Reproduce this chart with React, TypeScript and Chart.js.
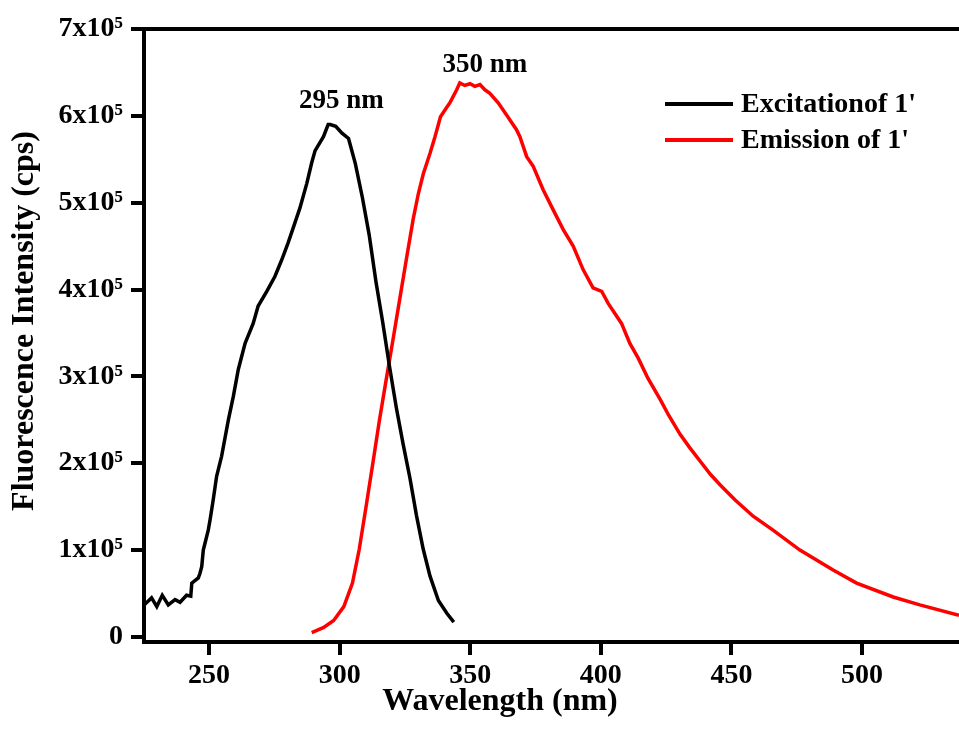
import React, { useEffect, useRef } from "react";
import { Chart, registerables } from "chart.js";

Chart.register(...registerables);

// ---- data ----
const EXCITATION_LABEL = "Excitationof 1'";
const EMISSION_LABEL = "Emission of 1'";

const EX_WAVELENGTH = [
  225.2, 228.0, 230.0, 232.1, 234.4, 237.0, 238.9, 241.4, 243.0, 243.4,
  245.9, 246.5, 247.2, 247.8, 249.7, 250.4, 251.6, 252.9, 254.8, 257.4,
  259.3, 261.2, 263.8, 266.9, 268.8, 272.1, 275.2, 277.8, 280.3, 282.9,
  284.8, 287.4, 289.3, 290.6, 293.8, 295.6, 296.4, 298.5, 300.9, 303.4,
  306.0, 308.7, 311.3, 313.9, 316.5, 319.1, 321.7, 324.3, 326.9, 329.4,
  332.0, 334.6, 337.8, 341.1, 343.7,
];
const EX_INTENSITY = [
  37000, 45000, 35000, 48000, 37000, 43000, 40000, 48000, 47000, 62000,
  68000, 73000, 81000, 100000, 123000, 135000, 158000, 185000, 208000, 250000,
  277000, 308000, 338000, 361000, 381000, 398000, 415000, 434000, 454000, 477000,
  494000, 522000, 546000, 560000, 576000, 590000, 590000, 588000, 580000, 574000,
  545000, 506000, 463000, 409000, 362000, 311000, 264000, 222000, 183000, 140000,
  101000, 70000, 42000, 27000, 17000,
];

const EM_WAVELENGTH = [
  289.3, 293.9, 297.7, 301.6, 304.9, 307.5, 310.0, 312.6, 315.2, 317.8,
  320.4, 323.0, 325.6, 328.2, 330.1, 332.0, 334.6, 336.5, 338.6, 341.0,
  342.2, 344.8, 346.0, 347.9, 349.9, 351.8, 353.7, 355.6, 357.5, 360.7,
  363.9, 367.7, 369.0, 371.6, 374.1, 377.9, 381.7, 385.6, 389.4, 393.2,
  397.0, 400.3, 402.8, 407.9, 411.1, 414.3, 418.0, 422.8, 426.0, 430.4,
  434.0, 438.1, 442.0, 445.7, 451.3, 458.3, 465.9, 476.2, 488.9, 497.9,
  511.9, 522.1, 537.1,
];
const EM_INTENSITY = [
  5000, 11000, 19000, 35000, 62000, 101000, 148000, 198000, 249000, 296000,
  342000, 389000, 436000, 482000, 510000, 533000, 557000, 576000, 599000, 610000,
  615000, 630000, 638000, 635000, 637000, 634000, 636000, 630000, 626000, 615000,
  601000, 584000, 576000, 553000, 542000, 515000, 492000, 469000, 450000, 423000,
  402000, 398000, 384000, 361000, 338000, 321000, 298000, 273000, 255000, 233000,
  218000, 202000, 187000, 175000, 158000, 139000, 123000, 100000, 77000, 62000,
  46000, 37000, 25000,
];

const X_TICKS = [250, 300, 350, 400, 450, 500];
const Y_TICKS = [0, 100000, 200000, 300000, 400000, 500000, 600000, 700000];
const X_MIN = 225.1;
const X_MAX = 537.1;
const Y_MIN = -5800;
const Y_MAX = 700000;

const PEAK_TEXT = ["295 nm", "350 nm"];
const PEAK_X = [300.7, 355.6];
const PEAK_Y = [617500, 659000];

const X_TITLE = "Wavelength (nm)";
const Y_TITLE = "Fluorescence Intensity (cps)";

// ---- styling ----
const FONT = "'Liberation Serif', 'Times New Roman', 'DejaVu Serif', serif";
const BLACK = "#000000";
const RED = "#ff0000";

const yTickLabel = (v: number) => (v === 0 ? "0" : `${Math.round(v / 100000)}x10\u2075`);

const overlayPlugin = {
  id: "overlay",
  afterDraw(chart: any) {
    const { ctx, chartArea, scales } = chart;
    ctx.save();
    ctx.fillStyle = "#000";
    // peak annotations
    ctx.font = `bold 27px ${FONT}`;
    ctx.textAlign = "center";
    ctx.textBaseline = "middle";
    PEAK_TEXT.forEach((t, i) => {
      ctx.fillText(t, scales.x.getPixelForValue(PEAK_X[i]), scales.y.getPixelForValue(PEAK_Y[i]));
    });
    // legend
    const ds = chart.data.datasets;
    ctx.font = `bold 28px ${FONT}`;
    ctx.textAlign = "left";
    ds.forEach((d: any, i: number) => {
      const y = chartArea.top + 75 + i * 36;
      ctx.strokeStyle = d.borderColor;
      ctx.lineWidth = 4;
      ctx.beginPath();
      ctx.moveTo(chartArea.right - 294, y);
      ctx.lineTo(chartArea.right - 226, y);
      ctx.stroke();
      ctx.fillText(d.label, chartArea.right - 218, y + 1);
    });
    // axis titles
    ctx.font = `bold 32px ${FONT}`;
    ctx.textAlign = "center";
    ctx.fillText(X_TITLE, chartArea.left + 356, chartArea.bottom + 60);
    ctx.translate(25, chartArea.top + 292);
    ctx.rotate(-Math.PI / 2);
    ctx.fillText(Y_TITLE, 0, 0);
    ctx.restore();
  },
};

export default function App() {
  const canvasRef = useRef<HTMLCanvasElement | null>(null);

  useEffect(() => {
    const canvas = canvasRef.current;
    if (!canvas) return;
    const tickFont = { family: FONT, size: 28, weight: "bold" as const };
    const chart = new Chart(canvas, {
      type: "line",
      data: {
        datasets: [
          {
            label: EXCITATION_LABEL,
            data: EX_WAVELENGTH.map((x, i) => ({ x, y: EX_INTENSITY[i] })),
            borderColor: BLACK,
            borderWidth: 3.5,
            pointRadius: 0,
            tension: 0,
            fill: false,
          },
          {
            label: EMISSION_LABEL,
            data: EM_WAVELENGTH.map((x, i) => ({ x, y: EM_INTENSITY[i] })),
            borderColor: RED,
            borderWidth: 3.5,
            pointRadius: 0,
            tension: 0,
            fill: false,
          },
        ],
      },
      options: {
        responsive: false,
        animation: false,
        devicePixelRatio: 1,
        layout: { padding: 0 },
        plugins: {
          legend: { display: false },
          tooltip: { enabled: false },
        },
        scales: {
          x: {
            type: "linear",
            position: "bottom",
            min: X_MIN,
            max: X_MAX,
            afterBuildTicks: (s: any) => {
              s.ticks = X_TICKS.map((v) => ({ value: v }));
            },
            afterFit: (s: any) => {
              s.height = 89;
            },
            ticks: { font: tickFont, color: BLACK, padding: 4, maxRotation: 0, callback: (v: any) => String(v) },
            grid: { display: true, drawOnChartArea: false, drawTicks: true, tickLength: 13, lineWidth: 4, color: BLACK },
            border: { display: true, width: 4, color: BLACK },
          },
          x2: {
            type: "linear",
            position: "top",
            min: X_MIN,
            max: X_MAX,
            afterFit: (s: any) => {
              s.height = 29;
            },
            ticks: { display: false },
            grid: { display: false },
            border: { display: true, width: 4, color: BLACK },
          },
          y: {
            type: "linear",
            position: "left",
            min: Y_MIN,
            max: Y_MAX,
            afterBuildTicks: (s: any) => {
              s.ticks = Y_TICKS.map((v) => ({ value: v }));
            },
            afterFit: (s: any) => {
              s.width = 144;
            },
            ticks: { font: tickFont, color: BLACK, padding: 8, callback: (v: any) => yTickLabel(Number(v)) },
            grid: { display: true, drawOnChartArea: false, drawTicks: true, tickLength: 13, lineWidth: 4, color: BLACK },
            border: { display: true, width: 4, color: BLACK },
          },
        },
      },
      plugins: [overlayPlugin],
    });
    return () => chart.destroy();
  }, []);

  return (
    <div style={{ position: "absolute", left: 0, top: 0, width: 959, height: 731, background: "#fff" }}>
      <canvas ref={canvasRef} width={959} height={731} style={{ display: "block", width: 959, height: 731 }} />
    </div>
  );
}
